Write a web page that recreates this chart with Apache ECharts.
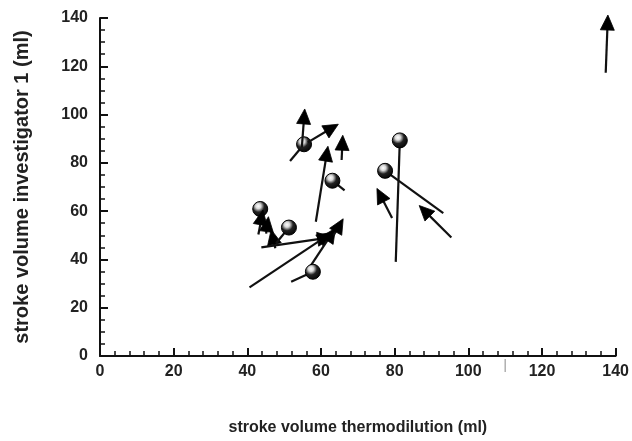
<!DOCTYPE html>
<html>
<head>
<meta charset="utf-8">
<script src="https://cdn.jsdelivr.net/npm/echarts@6/dist/echarts.min.js"></script>
<style>html,body{margin:0;padding:0;background:#fff}#c{width:632px;height:441px}</style>
</head>
<body>
<div id="c"></div>
<script>
// Arrow data: start (x0,y0) -> end (x1,y1); end marker type
var startX = [137.3, 51.6, 54.8, 56.4, 65.6, 58.6, 66.4, 43.6, 43.0, 45.1, 47.6, 47.8, 43.8, 40.6, 57.0, 63.4, 51.9, 80.3, 93.2, 79.3, 95.4];
var startY = [117.3, 80.8, 86.4, 88.5, 81.2, 55.6, 68.6, 57.2, 50.3, 50.7, 44.6, 46.7, 45.0, 28.4, 36.9, 49.9, 30.8, 39.0, 59.2, 57.2, 49.1];
var endX   = [137.8, 55.4, 55.4, 62.6, 65.8, 61.5, 63.1, 43.5, 43.8, 45.4, 47.0, 51.3, 60.7, 61.0, 62.6, 64.8, 57.8, 81.4, 77.4, 76.3, 88.4];
var endY   = [137.5, 87.7, 98.6, 94.1, 87.7, 83.2, 72.6, 60.9, 56.8, 54.0, 48.7, 53.2, 48.7, 49.1, 49.9, 53.6, 34.9, 89.3, 76.7, 66.1, 59.7];
var markerType = ['tri','ball','tri','tri','tri','tri','ball','ball','tri','tri','tri','ball','tri','tri','tri','tri','ball','ball','ball','tri','tri'];
var xTicks = [0, 20, 40, 60, 80, 100, 120, 140];
var yTicks = [0, 20, 40, 60, 80, 100, 120, 140];
var strayTickX = [110];

var arrows = [];
for (var i = 0; i < startX.length; i++) {
  arrows.push([startX[i], startY[i], endX[i], endY[i], markerType[i] === 'ball' ? 1 : 0]);
}

var chart = echarts.init(document.getElementById('c'));
var font = '"Liberation Sans", Arial, sans-serif';

function renderArrow(params, api) {
  var p0 = api.coord([api.value(0), api.value(1)]);
  var p1 = api.coord([api.value(2), api.value(3)]);
  var isBall = api.value(4) === 1;
  var dx = p1[0] - p0[0], dy = p1[1] - p0[1];
  var len = Math.sqrt(dx * dx + dy * dy) || 1;
  var ux = dx / len, uy = dy / len;
  var nx = -uy, ny = ux;
  var children = [{
    type: 'line',
    shape: { x1: p0[0], y1: p0[1], x2: p1[0], y2: p1[1] },
    style: { stroke: '#111', lineWidth: 2.2 }
  }];
  if (isBall) {
    children.push({
      type: 'circle',
      shape: { cx: p1[0], cy: p1[1], r: 7.5 },
      style: {
        fill: new echarts.graphic.RadialGradient(0.38, 0.32, 0.75, [
          { offset: 0, color: '#ffffff' },
          { offset: 0.22, color: '#d8d8d8' },
          { offset: 0.5, color: '#222' },
          { offset: 1, color: '#000' }
        ]),
        stroke: '#000', lineWidth: 1
      }
    });
  } else {
    var tipL = 9, baseL = 6, half = 7;
    var tip = [p1[0] + ux * tipL, p1[1] + uy * tipL];
    var b1 = [p1[0] - ux * baseL + nx * half, p1[1] - uy * baseL + ny * half];
    var b2 = [p1[0] - ux * baseL - nx * half, p1[1] - uy * baseL - ny * half];
    children.push({
      type: 'polygon',
      shape: { points: [tip, b1, b2] },
      style: { fill: '#000', stroke: '#000', lineWidth: 0.8 }
    });
  }
  return { type: 'group', children: children };
}

function renderStray(params, api) {
  var p = api.coord([api.value(0), 0]);
  return {
    type: 'line',
    shape: { x1: p[0], y1: p[1] + 3, x2: p[0], y2: p[1] + 16 },
    style: { stroke: '#888', lineWidth: 1 }
  };
}

chart.setOption({
  animation: false,
  backgroundColor: '#fff',
  grid: { left: 100, right: 12, top: 18, bottom: 78, containLabel: false },
  xAxis: {
    type: 'value', min: xTicks[0], max: xTicks[xTicks.length - 1], interval: 20,
    name: 'stroke volume thermodilution (ml)', nameLocation: 'middle', nameGap: 64,
    nameTextStyle: { fontFamily: font, fontWeight: 'bold', fontSize: 16, color: '#222' },
    axisLine: { lineStyle: { color: '#111', width: 2 } },
    axisTick: { inside: true, length: 8, lineStyle: { color: '#111', width: 2 } },
    minorTick: { show: true, splitNumber: 5, length: 5, lineStyle: { color: '#111', width: 1.5 } },
    axisLabel: { margin: 8, fontFamily: font, fontWeight: 'bold', fontSize: 16, color: '#222' },
    splitLine: { show: false }
  },
  yAxis: {
    type: 'value', min: yTicks[0], max: yTicks[yTicks.length - 1], interval: 20,
    name: 'stroke volume investigator 1 (ml)', nameLocation: 'middle', nameGap: 68,
    nameTextStyle: { fontFamily: font, fontWeight: 'bold', fontSize: 20, color: '#222' },
    axisLine: { lineStyle: { color: '#111', width: 2 } },
    axisTick: { inside: true, length: 8, lineStyle: { color: '#111', width: 2 } },
    minorTick: { show: true, splitNumber: 4, length: 5, lineStyle: { color: '#111', width: 1.5 } },
    axisLabel: { margin: 12, fontFamily: font, fontWeight: 'bold', fontSize: 16, color: '#222' },
    splitLine: { show: false }
  },
  series: [
    { type: 'custom', renderItem: renderStray, data: strayTickX.map(function (v) { return [v]; }), clip: false, silent: true },
    { type: 'custom', renderItem: renderArrow, data: arrows, clip: false, silent: true,
      encode: { x: [0, 2], y: [1, 3] } }
  ]
});
</script>
</body>
</html>
